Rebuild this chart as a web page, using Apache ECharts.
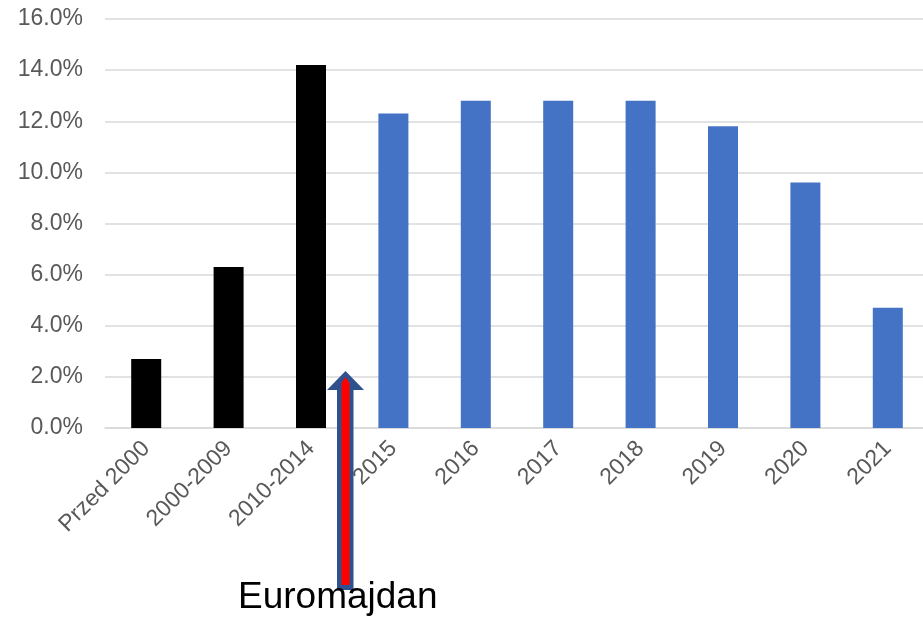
<!DOCTYPE html>
<html>
<head>
<meta charset="utf-8">
<script src="https://cdn.jsdelivr.net/npm/echarts@6/dist/echarts.min.js"></script>
<style>
html,body{margin:0;padding:0;background:#fff;overflow:hidden;width:923px;height:622px;}
#chart{width:929px;height:622px;}
</style>
</head>
<body>
<div id="chart"></div>
<script>
const categories = ['Przed 2000','2000-2009','2010-2014','2015','2016','2017','2018','2019','2020','2021'];
const values = [2.7, 6.3, 14.2, 12.3, 12.8, 12.8, 12.8, 11.8, 9.6, 4.7];
const yTicks = [0, 2, 4, 6, 8, 10, 12, 14, 16];
const annotationText = 'Euromajdan';

const chart = echarts.init(document.getElementById('chart'), null, {renderer:'canvas'});
const font = '"Liberation Sans", Arial, sans-serif';
chart.setOption({
  animation: false,
  grid: {left: 105, right: 0, top: 19, bottom: 194, containLabel: false},
  xAxis: {
    type: 'category',
    data: categories,
    axisLine: {lineStyle: {color: '#d9d9d9', width: 1.5}},
    axisTick: {show: false},
    axisLabel: {rotate: 45, color: '#595959', fontSize: 23, fontFamily: font, margin: 17, interval: 0}
  },
  yAxis: {
    type: 'value',
    min: yTicks[0],
    max: yTicks[yTicks.length - 1],
    interval: yTicks[1] - yTicks[0],
    axisLine: {show: false},
    axisTick: {show: false},
    splitLine: {lineStyle: {color: '#d9d9d9', width: 1.5}},
    axisLabel: {color: '#595959', fontSize: 23, fontFamily: font, margin: 22,
      formatter: v => v.toFixed(1) + '%'}
  },
  series: [{
    type: 'bar',
    data: values,
    barWidth: 30,
    itemStyle: {color: p => p.dataIndex < 3 ? '#000000' : '#4472C4'}
  }],
  graphic: [
    {type: 'polygon', z: 100, shape: {points: [[345.5,371],[364,390],[353.5,390],[353.5,590],[337,590],[337,390],[327,390]]},
      style: {fill: '#2F528F'}},
    {type: 'polygon', z: 101, shape: {points: [[345.5,377],[349.5,383],[349.5,585],[341.5,585],[341.5,383]]},
      style: {fill: '#FF0000'}},
    {type: 'text', z: 100, left: 238, top: 579, style: {text: annotationText, fill: '#000', fontSize: 37, fontFamily: font}}
  ]
});
</script>
</body>
</html>
